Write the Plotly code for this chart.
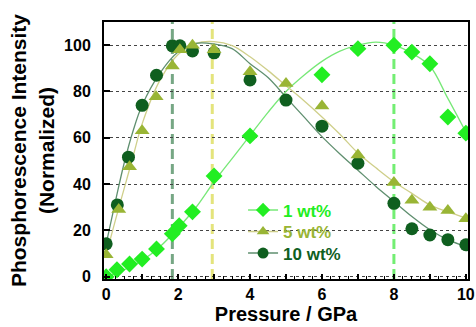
import plotly.graph_objects as go

# ---- data ----
x1 = [0, 0.3, 0.65, 1.0, 1.4, 1.84, 2.03, 2.4, 3.0, 4.0, 6.0, 7.0, 8.0, 8.5, 9.0, 9.5, 10.0]
y1 = [0, 3, 5.5, 7.6, 12, 18.5, 22, 28, 43.5, 60.8, 87.2, 98.5, 100, 97, 92, 69, 62]

x5 = [0, 0.35, 0.65, 1.0, 1.39, 1.84, 2.05, 2.4, 3.0, 4.0, 5.0, 6.0, 7.0, 8.0, 8.5, 9.0, 9.5, 10.0]
y5 = [9.5, 29, 47.5, 63, 77.7, 91, 98, 100, 98, 88.5, 83.4, 73.7, 52.6, 40.7, 33, 30, 28.6, 25]

x10 = [0, 0.31, 0.62, 1.0, 1.4, 1.84, 2.05, 2.4, 3.0, 4.0, 5.0, 6.0, 7.0, 8.0, 8.5, 9.0, 9.5, 10.0]
y10 = [14.2, 31, 51.6, 74, 87, 99.7, 99.7, 97.5, 96.7, 85, 76.3, 65, 49, 31.7, 20.7, 18, 16, 13.8]

# fitted curves
fx1 = [0, 0.5, 1, 1.5, 2, 2.5, 3, 3.5, 4, 4.5, 5, 5.5, 6, 6.5, 7, 7.5, 8, 8.5, 9, 9.5, 10]
fy1 = [0, 3, 7, 13, 21, 30, 41, 51, 61, 71, 80, 87, 93, 97.4, 100, 101.3, 100, 96.5, 91, 77, 62.5]

fx5 = [0, 0.25, 0.5, 0.75, 1, 1.5, 2, 2.5, 3, 3.5, 4, 4.5, 5, 5.5, 6, 6.5, 7, 7.5, 8, 8.5, 9, 9.5, 10]
fy5 = [9.5, 24, 38, 52, 66, 85, 96, 100.8, 101.5, 99.8, 95, 89, 82.5, 76, 69, 61.5, 53.4, 47, 41, 36, 31, 28, 25.4]

fx10 = [0, 0.25, 0.5, 0.75, 1, 1.5, 2, 2.5, 3, 3.5, 4, 4.5, 5, 5.5, 6, 6.5, 7, 7.5, 8, 8.5, 9, 9.5, 10]
fy10 = [14.2, 32, 49, 63, 74, 88, 97, 100.8, 100.5, 98.5, 92, 86, 77.5, 69, 60.5, 53, 46, 39, 32.5, 26, 20.3, 16, 13]

vline_x = [1.84, 2.95, 8.0]
vline_colors = ["rgba(60,130,80,0.7)", "rgba(225,225,110,0.9)", "rgba(90,235,90,0.85)"]

labels = ["1 wt%", "5 wt%", "10 wt%"]
c1, c5, c10 = "#22ee22", "#99b535", "#0f5f1f"
fc1, fc5, fc10 = "#77e877", "#cfcf8a", "#5f8f6f"

xticks = [0, 1, 2, 3, 4, 5, 6, 7, 8, 9, 10]
xticktext = ["0", "", "2", "", "4", "", "6", "", "8", "", "10"]
yticks = [0, 20, 40, 60, 80, 100]

FONT = "Liberation Sans, Arial, sans-serif"

fig = go.Figure()

for xv, col in zip(vline_x, vline_colors):
    fig.add_vline(x=xv, line=dict(color=col, width=3, dash="10px,5px"), layer="below")

# white legend background (hides the gridline behind the legend, beneath the traces)
fig.add_shape(type="rect", xref="paper", yref="paper", x0=0.363, x1=0.679, y0=0.07, y1=0.30,
              fillcolor="white", line=dict(width=0), layer="between")

# fit curves
for fx, fy, col in [(fx1, fy1, fc1), (fx5, fy5, fc5), (fx10, fy10, fc10)]:
    fig.add_trace(go.Scatter(x=fx, y=fy, mode="lines", line=dict(color=col, width=1.3, shape="spline"),
                             showlegend=False, hoverinfo="skip"))

# markers
fig.add_trace(go.Scatter(x=x10, y=y10, mode="markers", marker=dict(symbol="circle", size=13, color=c10),
                         showlegend=False))
fig.add_trace(go.Scatter(x=x5, y=y5, mode="markers", marker=dict(symbol="triangle-up", size=13, color=c5),
                         showlegend=False))
fig.add_trace(go.Scatter(x=x1, y=y1, mode="markers", marker=dict(symbol="diamond", size=13, color=c1),
                         showlegend=False))

# legend entries, one legend box per entry for exact spacing
legend_y = [0.267, 0.183, 0.099]
for lab, col, lcol, sym, lid in [(labels[0], c1, fc1, "diamond", "legend"),
                                 (labels[1], c5, fc5, "triangle-up", "legend2"),
                                 (labels[2], c10, fc10, "circle", "legend3")]:
    fig.add_trace(go.Scatter(x=[None], y=[None], mode="lines+markers",
                             name=f"<span style='color:{col}'>{lab}</span>",
                             line=dict(color=lcol, width=1.5), legend=lid,
                             marker=dict(symbol=sym, size=11, color=col)))

leg_common = dict(x=0.382, xanchor="left", yanchor="middle", bgcolor="rgba(255,255,255,0)",
                  font=dict(size=17, family=FONT, weight="bold"), itemwidth=30,
                  borderwidth=0)
fig.update_layout(
    width=476, height=327,
    margin=dict(l=104, r=8, t=22, b=48, autoexpand=False),
    paper_bgcolor="white", plot_bgcolor="white",
    font=dict(family=FONT, color="black"),
    showlegend=True,
    legend=dict(y=legend_y[0], **leg_common),
    legend2=dict(y=legend_y[1], **leg_common),
    legend3=dict(y=legend_y[2], **leg_common),
)
fig.update_xaxes(
    range=[-0.06, 10.06], tickvals=xticks, ticktext=xticktext,
    ticks="inside", ticklen=5, tickwidth=1.5, tickcolor="black",
    minor=dict(dtick=0.25, ticks="inside", ticklen=3, tickcolor="black", tickwidth=1),
    showline=True, linecolor="black", linewidth=2, mirror=True,
    showgrid=False, zeroline=False, automargin=False,
    tickfont=dict(size=16, family=FONT, weight="bold"),
    ticklabelstandoff=0,
    title=dict(text="Pressure / GPa", font=dict(size=20, family=FONT, weight="bold"), standoff=2),
)
fig.update_yaxes(
    range=[-1, 110], tickvals=yticks,
    ticks="inside", ticklen=6, tickwidth=1.5, tickcolor="black",
    showline=True, linecolor="black", linewidth=2, mirror=True,
    showgrid=True, gridcolor="#444444", griddash="dot", gridwidth=1,
    zeroline=False, automargin=False,
    tickfont=dict(size=16, family=FONT, weight="bold"),
    ticklabelstandoff=8,
    title=dict(text="Phosphorescence Intensity<br>(Normalized)", font=dict(size=21, family=FONT, weight="bold"),
               standoff=4),
)

fig.write_html("out.html", config={"displayModeBar": False},
               post_script="document.body.style.margin='0';document.body.style.overflow='hidden';")
